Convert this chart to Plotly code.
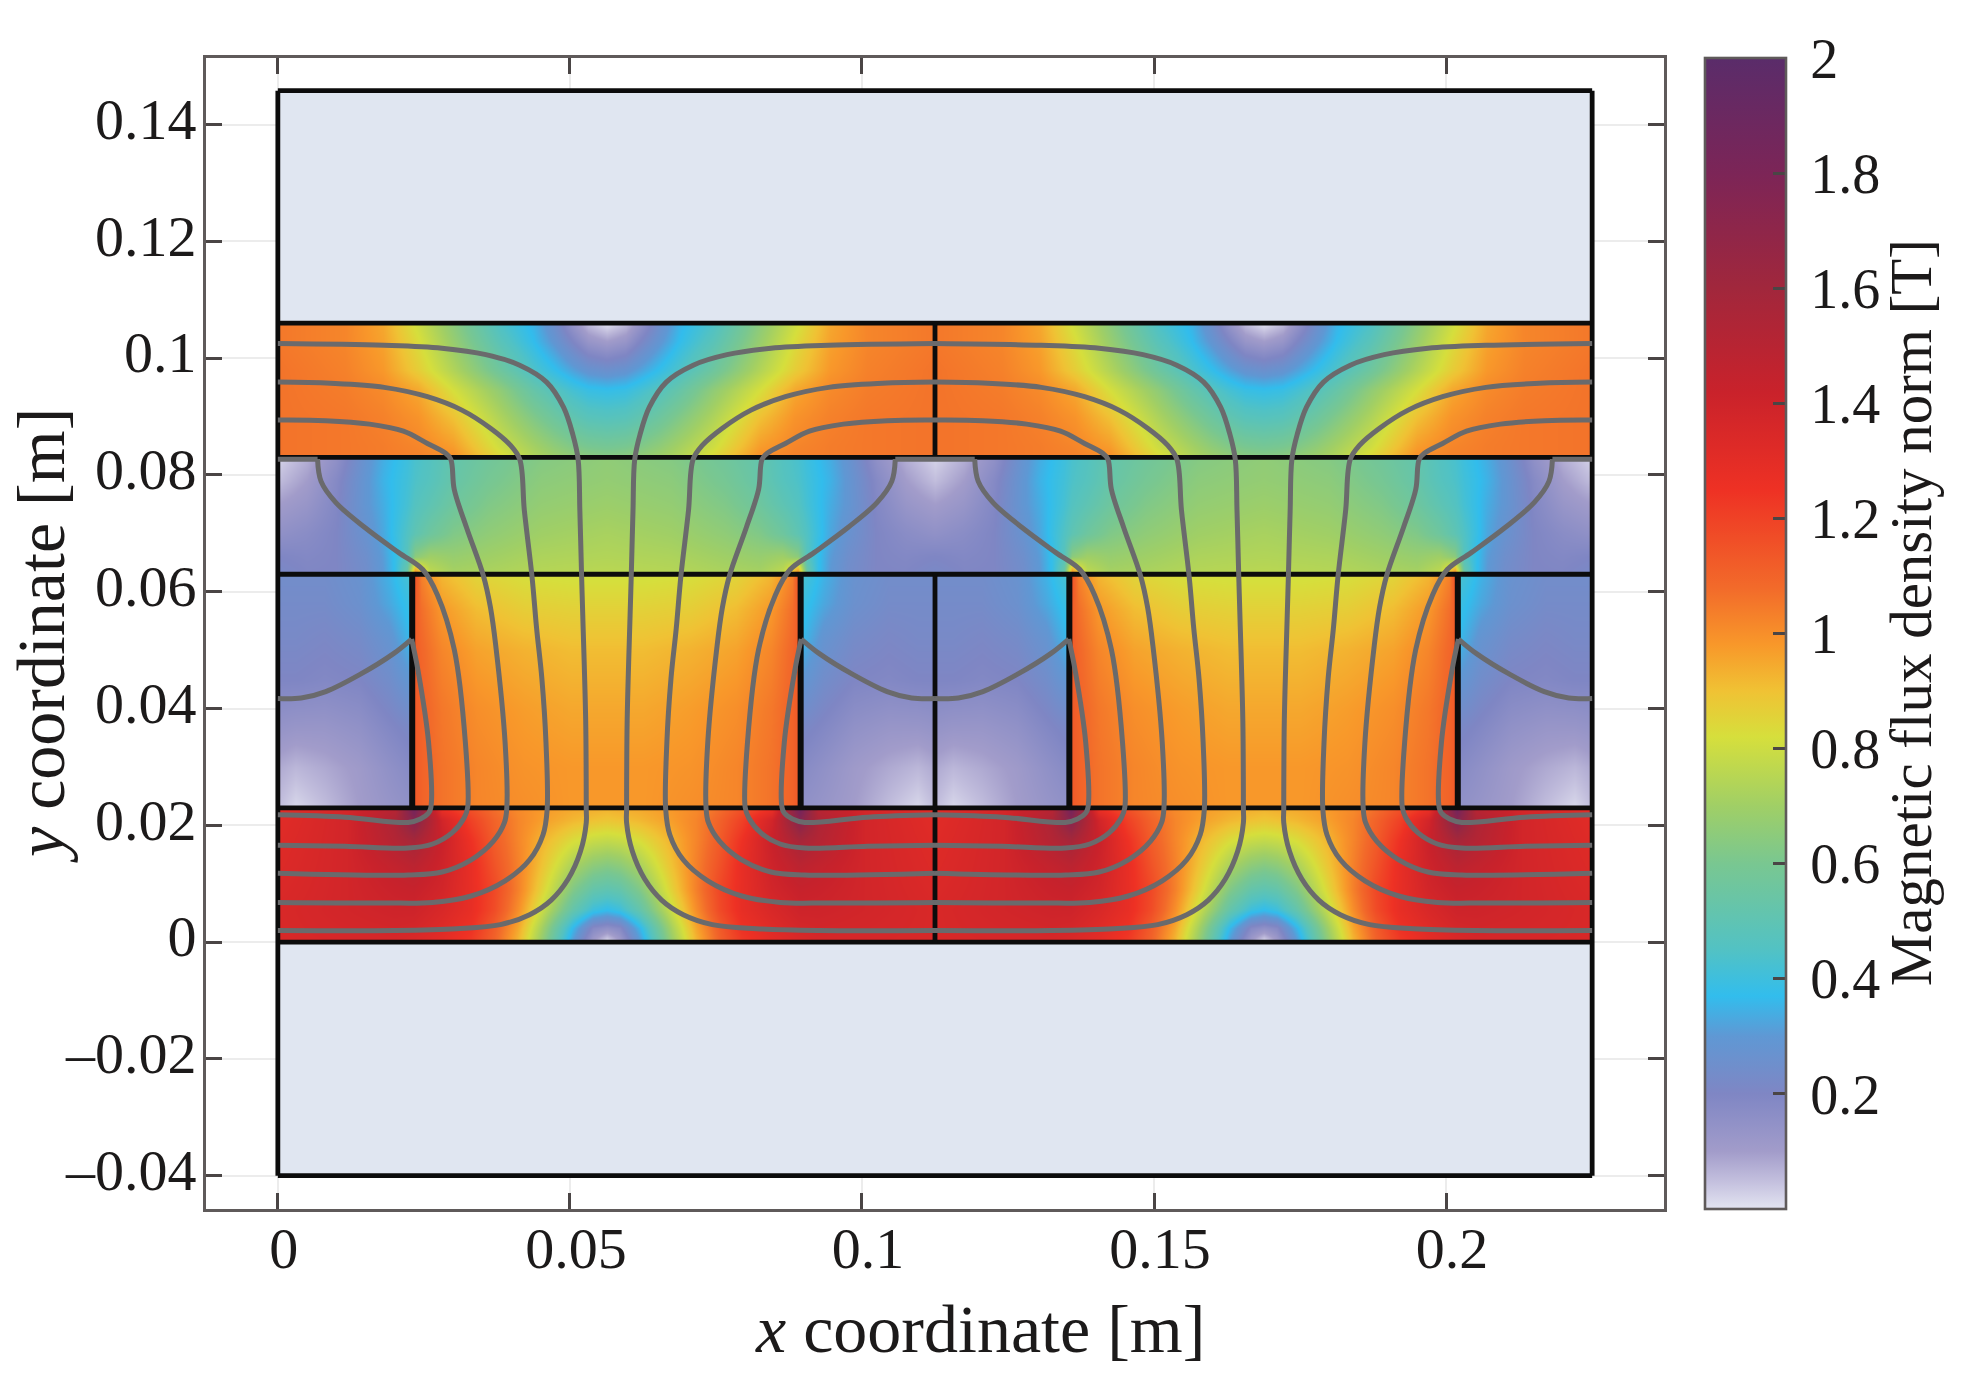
import numpy as np
import plotly.graph_objects as go

FONT = "Liberation Serif"
INK = "#1c1a1a"
PITCH = 0.1125
HALF = 0.05625
WIDTH_X = 0.225

x_ticks = [0, 0.05, 0.1, 0.15, 0.2]
x_labels = ["0", "0.05", "0.1", "0.15", "0.2"]
y_ticks = [-0.04, -0.02, 0, 0.02, 0.04, 0.06, 0.08, 0.1, 0.12, 0.14]
y_labels = ["\u20130.04", "\u20130.02", "0", "0.02", "0.04", "0.06", "0.08", "0.1", "0.12", "0.14"]
cb_ticks = [0.2, 0.4, 0.6, 0.8, 1, 1.2, 1.4, 1.6, 1.8, 2]
cb_labels = ["\u20090.2", "\u20090.4", "\u20090.6", "\u20090.8", "\u20091", "\u20091.2", "\u20091.4", "\u20091.6", "\u20091.8", "\u20092"]

# Flux density, over one half pole pitch of each region
lower_x = [0, .012, .02, .0232, .028, .033, .037, .041, .045, .0505, .054, .05625]
lower_y = [0, .0025, .0055, .009, .013, .0175, .021, .023]
lower_z = [
    [1.35, 1.36, 1.36, 1.34, 1.30, 1.22, 1.10, .92, .68, .30, .10, .00],
    [1.35, 1.37, 1.38, 1.37, 1.32, 1.25, 1.12, .95, .72, .36, .18, .15],
    [1.35, 1.38, 1.40, 1.40, 1.35, 1.28, 1.17, 1.0, .80, .52, .40, .37],
    [1.34, 1.38, 1.42, 1.43, 1.38, 1.28, 1.18, 1.03, .86, .62, .52, .50],
    [1.33, 1.38, 1.45, 1.48, 1.40, 1.28, 1.15, 1.03, .90, .72, .65, .63],
    [1.32, 1.38, 1.52, 1.58, 1.42, 1.25, 1.12, 1.02, .93, .83, .79, .78],
    [1.31, 1.38, 1.55, 1.75, 1.38, 1.20, 1.10, 1.02, .97, .92, .90, .89],
    [1.30, 1.37, 1.50, 1.85, 1.25, 1.15, 1.07, 1.01, .98, .95, .94, .93],
]

block_x = [0, .003, .008, .014, .019, .023]
block_y = [.023, .03, .037, .045, .052, .058, .063]
block_z = [
    [.05, .015, .05, .10, .13, .15],
    [.08, .06, .08, .11, .15, .18],
    [.14, .13, .13, .15, .19, .22],
    [.20, .20, .19, .20, .24, .30],
    [.22, .22, .21, .23, .28, .37],
    [.23, .23, .23, .26, .33, .40],
    [.24, .24, .24, .27, .35, .44],
]

magnet_x = [.023, .0245, .028, .034, .042, .05, .05625]
magnet_y = [.023, .03, .04, .05, .057, .063]
magnet_z = [
    [1.14, 1.10, 1.06, 1.02, 1.00, .98, .98],
    [1.14, 1.10, 1.06, 1.02, .99, .98, .98],
    [1.14, 1.10, 1.05, 1.00, .97, .95, .95],
    [1.13, 1.09, 1.02, .96, .93, .91, .91],
    [1.14, 1.07, .98, .91, .87, .86, .86],
    [1.20, 1.03, .92, .85, .82, .81, .81],
]

gap_x = [0, .005, .01, .015, .018, .02, .022, .0235, .026, .03, .036, .045, .05625]
gap_y = [.063, .066, .07, .075, .079, .083]
gap_z = [
    [.22, .20, .20, .24, .30, .38, .55, 1.05, .78, .72, .73, .75, .76],
    [.20, .19, .20, .25, .31, .38, .47, .65, .70, .68, .70, .73, .74],
    [.15, .17, .20, .27, .33, .39, .45, .50, .56, .62, .66, .70, .72],
    [.10, .13, .19, .29, .34, .38, .42, .46, .50, .56, .62, .67, .69],
    [.05, .10, .18, .29, .35, .38, .41, .44, .47, .53, .59, .65, .67],
    [.02, .07, .15, .28, .34, .37, .40, .43, .46, .52, .57, .63, .66],
]

upper_x = [0, .0115, .018, .024, .03, .0381, .0439, .0472, .0505, .053, .05625]
upper_y = [.083, .085, .09, .0945, .0979, .103, .106]
upper_z = [
    [1.06, 1.05, 1.04, 1.03, 1.00, .84, .74, .70, .67, .65, .64],
    [1.06, 1.05, 1.04, 1.02, .97, .80, .71, .66, .62, .60, .59],
    [1.06, 1.05, 1.03, .99, .90, .73, .62, .56, .51, .48, .47],
    [1.06, 1.04, 1.01, .95, .82, .66, .53, .47, .42, .39, .38],
    [1.06, 1.03, .98, .87, .74, .56, .44, .38, .32, .28, .26],
    [1.05, 1.02, .96, .83, .68, .48, .37, .29, .20, .13, .10],
    [1.05, 1.02, .95, .80, .65, .44, .35, .25, .13, .05, .00],
]

# Field lines over one half pole pitch (x [m], y [m])
line1_x = [0, .0199, .0306, .0381, .0431, .0468, .0497, .0518, .0528, .0528, .0527, .0522, .0520, .0517, .0514, .0505, .0489, .0460, .0414, .0356, .0281, .0182, 0]
line1_y = [.0020, .0020, .0023, .0030, .0047, .0072, .0108, .0155, .0205, .0227, .0379, .0559, .0627, .0739, .0827, .0869, .0916, .0959, .0988, .1006, .1017, .1022, .1025]
line2_x = [0, .0182, .0265, .0331, .0389, .0431, .0454, .0461, .0459, .0452, .0443, .0435, .0422, .0414, .0398, .0364, .0315, .0256, .0182, .0090, 0]
line2_y = [.0068, .0067, .0068, .0079, .0105, .0141, .0184, .0227, .0342, .0451, .0537, .0627, .0739, .0827, .0851, .0880, .0911, .0934, .0950, .0957, .0959]
line3_x = [0, .0223, .0281, .0331, .0369, .0388, .0392, .0389, .0373, .0364, .0352, .0323, .0302, .0296, .0286, .0256, .0215, .0157, .0082, 0]
line3_y = [.0118, .0115, .0120, .0141, .0173, .0205, .0231, .0342, .0508, .0573, .0627, .0710, .0775, .0827, .0838, .0854, .0875, .0887, .0893, .0894]
line4_x = [0, .0115, .0223, .0265, .0298, .0319, .0325, .0321, .0302, .0273, .0248, .0207, .0149, .0099, .0074, .0068]
line4_y = [.0166, .0164, .0161, .0168, .0187, .0213, .0231, .0342, .0501, .0595, .0638, .0667, .0710, .0753, .0789, .0827]
line4b_x = [0, .0035, .0068]
line4b_y = [.0827, .0827, .0827]
line5_x = [0, .0115, .0223, .0244, .0258, .0262, .0258, .0240, .0229]
line5_y = [.0218, .0214, .0205, .0211, .0221, .0231, .0342, .0465, .0519]
line5b_x = [.0229, .0198, .0140, .0082, .0040, 0]
line5b_y = [.0519, .0494, .0458, .0429, .0418, .0417]

# Boundaries of the model regions
air_box_x = [0, WIDTH_X, WIDTH_X, 0, 0]
air_top_y = [.106, .106, .1458, .1458, .106]
air_bottom_y = [-.04, -.04, 0, 0, -.04]
h_levels = [-.04, 0, .023, .063, .083, .106, .1458]
divider_spans = [(0, .063), (.083, .106)]
magnet_edges = [.023, .0895, .1355, .202]

colorscale_stops = [
    (0.00, "#e3e4f1"), (.05, "#c2bedd"), (.10, "#a29cca"), (.20, "#7f86c4"),
    (.30, "#5f98d4"), (.37, "#32bded"), (.45, "#52c2c4"), (.60, "#79c791"),
    (.70, "#a0cf66"), (.82, "#d6df3c"), (.90, "#f0c234"), (.98, "#f8982a"),
    (1.08, "#f26a2a"), (1.25, "#ee3124"), (1.42, "#c9222b"), (1.60, "#a1273c"),
    (1.80, "#7c2557"), (2.00, "#5a2c6a"),
]


def pad(x, y, z, eps=1e-5):
    """Tiny edge cells so the smoothed image stops on the region boundary."""
    x, y, z = np.asarray(x, float), np.asarray(y, float), np.asarray(z, float)
    z = np.pad(z, 1, mode="edge")
    x = np.concatenate([[x[0] - eps / 2], x[0:1] + eps / 2, x[1:-1], [x[-1] - eps / 2, x[-1] + eps / 2]])
    y = np.concatenate([[y[0] - eps / 2], y[0:1] + eps / 2, y[1:-1], [y[-1] - eps / 2, y[-1] + eps / 2]])
    return x, y, z


def mirror(x, z, centre):
    x, z = np.asarray(x, float), np.asarray(z, float)
    keep = x < centre - 1e-9
    xm = 2 * centre - x[keep][::-1]
    return np.concatenate([x, xm]), np.concatenate([z, z[:, keep][:, ::-1]], axis=1)


def flipped(x, z, centre):
    x, z = np.asarray(x, float), np.asarray(z, float)
    return 2 * centre - x[::-1], z[:, ::-1]


fig = go.Figure()


def add_map(x, y, z):
    px, py, pz = pad(x, y, z)
    fig.add_trace(go.Heatmap(x=px, y=py, z=pz, coloraxis="coloraxis", zsmooth="best",
                             hoverinfo="skip"))


for rx, ry, rz in [(lower_x, lower_y, lower_z), (gap_x, gap_y, gap_z), (upper_x, upper_y, upper_z)]:
    ax, az = mirror(rx, rz, HALF)
    ax, az = mirror(ax, az, PITCH)
    add_map(ax, ry, az)

mx, mz = mirror(magnet_x, magnet_z, HALF)
add_map(mx, magnet_y, mz)
add_map(mx + PITCH, magnet_y, mz)

bx, bz = np.array(block_x, float), np.array(block_z, float)
add_map(bx, block_y, bz)
fx, fz = flipped(bx, bz, PITCH / 2)
add_map(fx, block_y, fz)
add_map(bx + PITCH, block_y, bz)
add_map(fx + PITCH, block_y, fz)

for ys in (air_top_y, air_bottom_y):
    fig.add_trace(go.Scatter(x=air_box_x, y=ys, mode="none", fill="toself",
                             fillcolor="#e0e6f1", hoverinfo="skip", showlegend=False))

# Black region boundaries
bh_x, bh_y = [], []
for lv in h_levels:
    bh_x += [0, WIDTH_X, None]
    bh_y += [lv, lv, None]
bh_x += [0, 0, None, WIDTH_X, WIDTH_X, None]
bh_y += [h_levels[0], h_levels[-1], None, h_levels[0], h_levels[-1], None]
for a, b in divider_spans:
    bh_x += [PITCH, PITCH, None]
    bh_y += [a, b, None]
fig.add_trace(go.Scatter(x=bh_x, y=bh_y, mode="lines", line=dict(color="#0c0c0c", width=4.8),
                         hoverinfo="skip", showlegend=False))
mg_x, mg_y = [], []
for e in magnet_edges:
    mg_x += [e, e, None]
    mg_y += [.023, .063, None]
fig.add_trace(go.Scatter(x=mg_x, y=mg_y, mode="lines", line=dict(color="#0c0c0c", width=6),
                         hoverinfo="skip", showlegend=False))

# Field lines, repeated by the symmetry of the machine
for lx, ly in [(line1_x, line1_y), (line2_x, line2_y), (line3_x, line3_y), (line4_x, line4_y),
               (line4b_x, line4b_y), (line5_x, line5_y), (line5b_x, line5b_y)]:
    lx = np.array(lx, float)
    for xs in (lx, PITCH - lx, PITCH + lx, WIDTH_X - lx):
        fig.add_trace(go.Scatter(x=xs, y=ly, mode="lines",
                                 line=dict(color="#6a6a6c", width=5, shape="spline", smoothing=1.0),
                                 hoverinfo="skip", showlegend=False))

axis_common = dict(
    showgrid=True, gridcolor="#ececec", gridwidth=1.5, zeroline=False,
    showline=True, linecolor="#5f5a5a", linewidth=2.6, mirror="allticks",
    ticks="inside", ticklen=16, tickwidth=3, tickcolor="#4a4545",
    tickfont=dict(family=FONT, size=58, color=INK),
)
fig.update_layout(
    width=1975, height=1386,
    margin=dict(l=206, r=311, t=58, b=177, autoexpand=False),
    paper_bgcolor="white", plot_bgcolor="white", showlegend=False,
    xaxis=dict(range=[-.0123, .2373], tickmode="array", tickvals=x_ticks, ticktext=x_labels,
               ticklabelstandoff=-13, ticklabelshift=6, **axis_common),
    yaxis=dict(range=[-.0457, .1514], tickmode="array", tickvals=y_ticks, ticktext=y_labels,
               ticklabelstandoff=-5, ticklabelshift=-6, **axis_common),
    coloraxis=dict(
        cmin=0, cmax=2,
        colorscale=[[v / 2, c] for v, c in colorscale_stops],
        colorbar=dict(
            x=1.028, xanchor="left", xpad=0, y=0.5, yanchor="middle", ypad=0,
            thickness=81, thicknessmode="pixels", len=1, lenmode="fraction",
            outlinecolor="#5f5a5a", outlinewidth=2.6,
            tickmode="array", tickvals=cb_ticks, ticktext=cb_labels,
            ticks="inside", ticklen=14, tickwidth=3, tickcolor="#4a4545",
            tickfont=dict(family=FONT, size=56, color=INK),
        ),
    ),
    annotations=[
        dict(text="<i>x</i> coordinate [m]", xref="paper", yref="paper", x=.531, y=-.104,
             xanchor="center", yanchor="middle",
             showarrow=False, font=dict(family=FONT, size=68, color=INK)),
        dict(text="<i>y</i> coordinate [m]", xref="paper", yref="paper", x=-.113, y=.498,
             xanchor="center", yanchor="middle",
             textangle=-90, showarrow=False, font=dict(family=FONT, size=68, color=INK)),
        dict(text="Magnetic flux density norm [T]", xref="paper", yref="paper", x=1.169, y=.518,
             xanchor="center", yanchor="middle",
             textangle=-90, showarrow=False, font=dict(family=FONT, size=59, color=INK)),
    ],
)

fig.write_html("out.html", config=dict(displayModeBar=False),
               post_script="document.body.style.margin='0';document.body.style.overflow='hidden';")
